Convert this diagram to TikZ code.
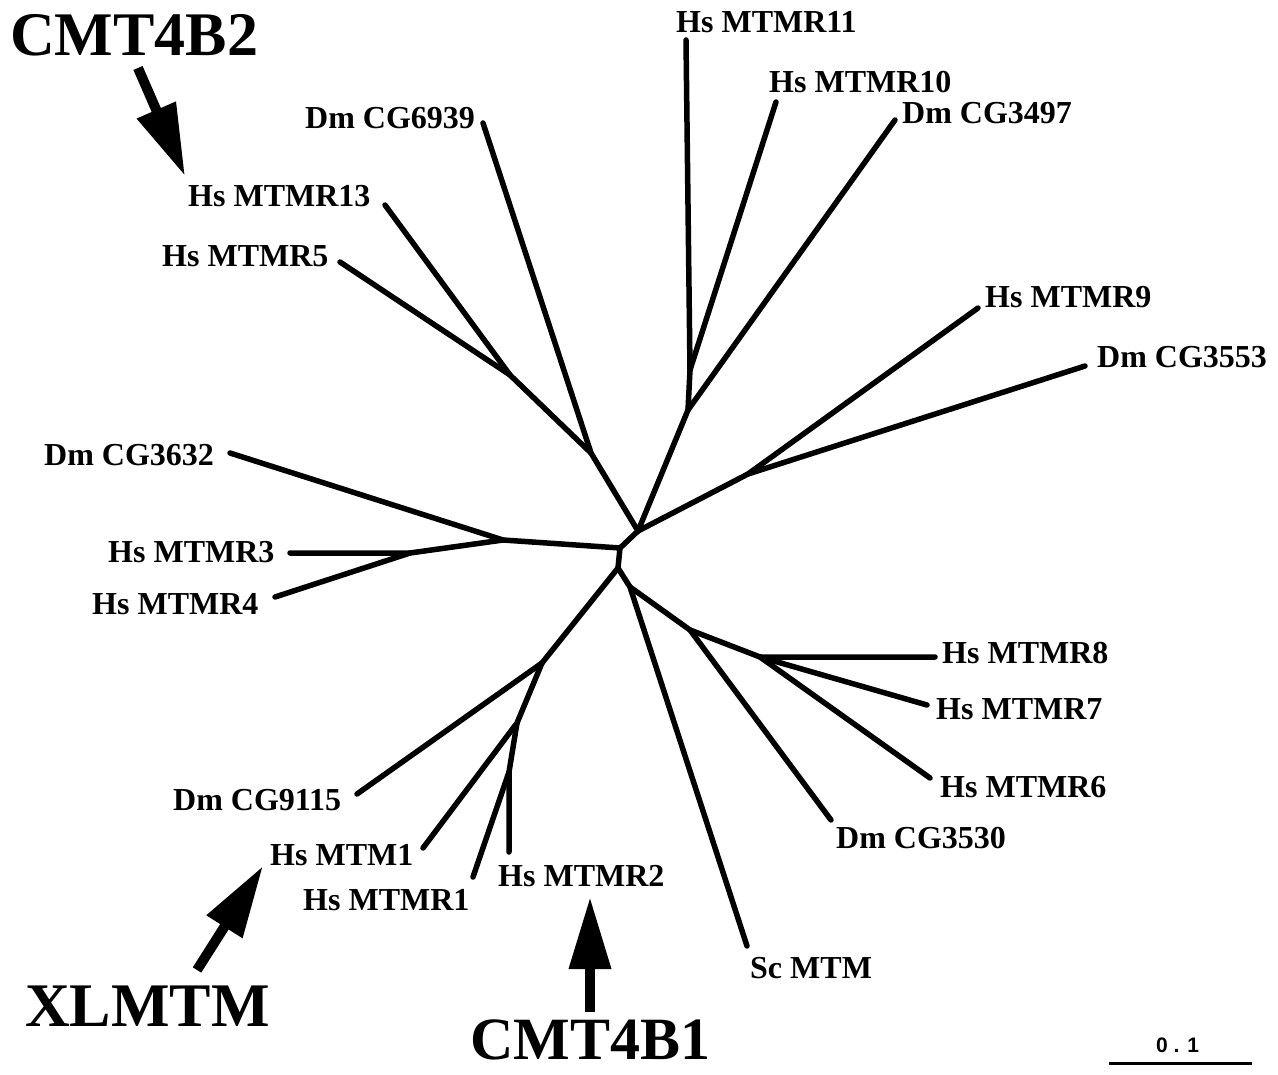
\documentclass[tikz,border=0pt]{standalone}
\usepackage{fontspec}
\setmainfont{Liberation Serif}
\setsansfont{Liberation Sans}
\usetikzlibrary{arrows.meta}
\begin{document}
\begin{tikzpicture}[x=1pt,y=-1pt,
  br/.style={line width=5.5pt,line cap=round,line join=round},
  lab/.style={anchor=west,inner sep=0pt,font=\fontsize{32}{36}\selectfont\bfseries},
  big/.style={anchor=west,inner sep=0pt,font=\fontsize{62}{70}\selectfont\bfseries},
  bigarrow/.style={line width=10pt,-{Triangle[length=72pt,width=40pt]}}]
\useasboundingbox[fill=white] (0,0) rectangle (1278,1075);
% internal nodes
\coordinate (A) at (638,531);
\coordinate (N10) at (688,410);
\coordinate (N11) at (690,370);
\coordinate (N9) at (748,474);
\coordinate (N6) at (591,453);
\coordinate (N13) at (510,375);
\coordinate (B) at (620,548);
\coordinate (NL) at (503,540);
\coordinate (N3) at (410,553);
\coordinate (C) at (618,568);
\coordinate (D) at (630,587);
\coordinate (E) at (690,630);
\coordinate (F) at (760,657);
\coordinate (G) at (542,663);
\coordinate (H) at (517,723);
\coordinate (I) at (509,772);
% leaf tips
\coordinate (t11) at (686,40);
\coordinate (t10) at (776,102);
\coordinate (t3497) at (895,120);
\coordinate (t9) at (978,308);
\coordinate (t3553) at (1085,366);
\coordinate (t6939) at (483,123);
\coordinate (t13) at (385,205);
\coordinate (t5) at (340,262);
\coordinate (t3632) at (230,453);
\coordinate (tR3) at (290,553);
\coordinate (tR4) at (275,597);
\coordinate (tSc) at (747,946);
\coordinate (t3530) at (831,820);
\coordinate (tR8) at (935,657);
\coordinate (tR7) at (927,705);
\coordinate (tR6) at (930,778);
\coordinate (t9115) at (357,794);
\coordinate (tM1) at (423,848);
\coordinate (tR2) at (509,852);
\coordinate (tR1) at (473,877);
% branches
\draw[br] (t11) -- (N11) -- (N10) -- (A);
\draw[br] (t10) -- (N11);
\draw[br] (t3497) -- (N10);
\draw[br] (t9) -- (N9) -- (A);
\draw[br] (t3553) -- (N9);
\draw[br] (t6939) -- (N6) -- (A);
\draw[br] (t5) -- (N13) -- (N6);
\draw[br] (t13) -- (N13);
\draw[br] (A) -- (B) -- (C);
\draw[br] (t3632) -- (NL) -- (B);
\draw[br] (tR3) -- (N3) -- (NL);
\draw[br] (tR4) -- (N3);
\draw[br] (C) -- (D) -- (tSc);
\draw[br] (D) -- (E) -- (t3530);
\draw[br] (E) -- (F) -- (tR8);
\draw[br] (F) -- (tR7);
\draw[br] (F) -- (tR6);
\draw[br] (C) -- (G) -- (t9115);
\draw[br] (G) -- (H) -- (tM1);
\draw[br] (H) -- (I) -- (tR2);
\draw[br] (I) -- (tR1);
% labels
\node[lab] (l11) at (676,22) {Hs MTMR11};
\node[lab] (l10) at (769,82) {Hs MTMR10};
\node[lab] (l3497) at (902,113) {Dm CG3497};
\node[lab] (l6939) at (305,118) {Dm CG6939};
\node[lab] (l13) at (188,196) {Hs MTMR13};
\node[lab] (l5) at (162,256) {Hs MTMR5};
\node[lab] (l9) at (985,297) {Hs MTMR9};
\node[lab] (l3553) at (1097,357) {Dm CG3553};
\node[lab] (l3632) at (44,455) {Dm CG3632};
\node[lab] (lR3) at (108,552) {Hs MTMR3};
\node[lab] (lR4) at (92,604) {Hs MTMR4};
\node[lab] (lR8) at (942,653) {Hs MTMR8};
\node[lab] (lR7) at (936,709) {Hs MTMR7};
\node[lab] (lR6) at (940,787) {Hs MTMR6};
\node[lab] (l3530) at (836,838) {Dm CG3530};
\node[lab] (l9115) at (173,800) {Dm CG9115};
\node[lab] (lM1) at (270,855) {Hs MTM1};
\node[lab] (lR1) at (303,900) {Hs MTMR1};
\node[lab] (lR2) at (498,876) {Hs MTMR2};
\node[lab] (lSc) at (750,968) {Sc MTM};
% disease labels and arrows
\node[big] (cmt4b2) at (10,35) {CMT4B2};
\node[big] (xlmtm) at (25,1006) {XLMTM};
\node[big,font=\fontsize{60}{68}\selectfont\bfseries] (cmt4b1) at (470,1040) {CMT4B1};
\coordinate (a2s) at (138,68);
\coordinate (a2t) at (185,176);
\coordinate (axs) at (197,970);
\coordinate (axt) at (263,866);
\coordinate (a1s) at (590,1012);
\coordinate (a1t) at (590,897);
\draw[bigarrow] (a2s) -- (a2t);
\draw[bigarrow] (axs) -- (axt);
\draw[bigarrow] (a1s) -- (a1t);
% scale bar
\node[anchor=west,inner sep=0pt,font=\sffamily\bfseries\fontsize{21}{24}\selectfont] (sc) at (1156,1045) {0 . 1};
\coordinate (s1) at (1109,1063);
\coordinate (s2) at (1252,1063);
\draw[line width=3pt] (s1) -- (s2);
\end{tikzpicture}
\end{document}
